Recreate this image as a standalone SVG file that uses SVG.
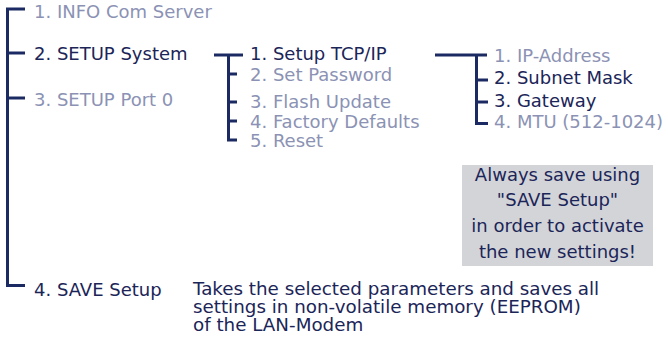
<svg xmlns="http://www.w3.org/2000/svg" width="668" height="337" viewBox="0 0 668 337">
<style>
text{font-family:"DejaVu Sans","Liberation Sans",sans-serif;font-size:18px}
.d{fill:#1b2558}
.g{fill:#8b92b4}
.s{font-size:18.3px}
.c{text-anchor:middle}
#connectors path{fill:none;stroke:#1c2a63;stroke-width:3}
</style>
<rect width="668" height="337" fill="#fff"/>
<g id="connectors">
<path d="M25,9 H7.5 V285.5 H25"/>
<path d="M7.5,53 H25"/>
<path d="M7.5,98 H25"/>
<path d="M214,55 H243"/>
<path d="M228.5,55 V140 H237"/>
<path d="M228.5,74 H237"/>
<path d="M228.5,102 H237"/>
<path d="M228.5,121 H237"/>
<path d="M435,55 H487"/>
<path d="M476.5,55 V123.5 H488"/>
<path d="M476.5,80 H488"/>
<path d="M476.5,102 H488"/>
</g>
<g id="n-info"><text class="g" x="34" y="18">1. INFO Com Server</text></g>
<g id="n-setup-system"><text class="d" x="34" y="60">2. SETUP System</text></g>
<g id="n-setup-port"><text class="g" x="34" y="106">3. SETUP Port 0</text></g>
<g id="n-save"><text class="d" x="34" y="296">4. SAVE Setup</text></g>
<g id="n-save-desc">
<text class="d s" x="193" y="295">Takes the selected parameters and saves all</text>
<text class="d s" x="193" y="313">settings in non-volatile memory (EEPROM)</text>
<text class="d s" x="193" y="331">of the LAN-Modem</text>
</g>
<g id="n-tcp"><text class="d" x="250" y="60">1. Setup TCP/IP</text></g>
<g id="n-pass"><text class="g" x="250" y="81">2. Set Password</text></g>
<g id="n-flash"><text class="g" x="250" y="108">3. Flash Update</text></g>
<g id="n-factory"><text class="g" x="250" y="128">4. Factory Defaults</text></g>
<g id="n-reset"><text class="g" x="250" y="147">5. Reset</text></g>
<g id="n-ip"><text class="g" x="494" y="62">1. IP-Address</text></g>
<g id="n-subnet"><text class="d" x="494" y="84">2. Subnet Mask</text></g>
<g id="n-gateway"><text class="d" x="494" y="107">3. Gateway</text></g>
<g id="n-mtu"><text class="g" x="494" y="128">4. MTU (512-1024)</text></g>
<g id="n-note">
<rect x="462" y="165" width="191" height="101" fill="#d3d4d8"/>
<text class="d c" x="557.5" y="181">Always save using</text>
<text class="d c" x="557.5" y="206">"SAVE Setup"</text>
<text class="d c" x="557.5" y="232">in order to activate</text>
<text class="d c" x="557.5" y="258">the new settings!</text>
</g>
</svg>
